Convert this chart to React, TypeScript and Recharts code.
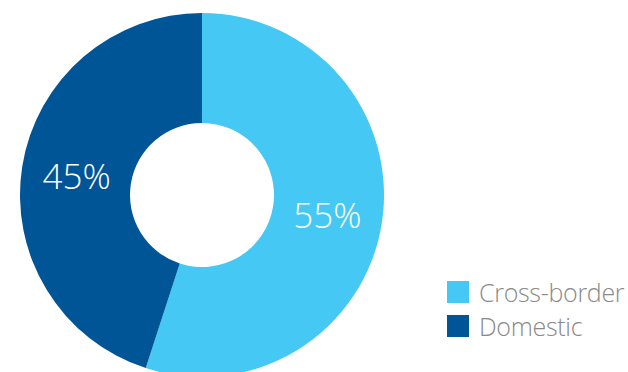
import { PieChart, Pie, Cell, Legend } from 'recharts'

const categories = ['Cross-border', 'Domestic']
const shares = [55, 45]
const COLORS = ['#45c8f4', '#005596']

const data = categories.map((name, i) => ({ name, value: shares[i] }))

const RADIAN = Math.PI / 180

const renderLabel = (props: any) => {
  const { cx, cy, midAngle, innerRadius, outerRadius, value } = props
  const r = (innerRadius + outerRadius) / 2
  const x = cx + r * Math.cos(-midAngle * RADIAN)
  const y = cy + r * Math.sin(-midAngle * RADIAN)
  return (
    <text
      x={x}
      y={y}
      fill="#ffffff"
      textAnchor="middle"
      dominantBaseline="central"
      style={{ fontFamily: '"Open Sans", sans-serif', fontWeight: 300, fontSize: 35 }}
    >
      {`${value}%`}
    </text>
  )
}

const renderLegend = () => (
  <div style={{ fontFamily: '"Open Sans", sans-serif', fontWeight: 300 }}>
    {categories.map((name, i) => (
      <div key={name} style={{ display: 'flex', alignItems: 'center', height: 34 }}>
        <span style={{ width: 22, height: 22, background: COLORS[i], marginRight: 10, display: 'inline-block' }} />
        <span style={{ fontSize: 25, color: '#8a8a8a', letterSpacing: -0.3 }}>{name}</span>
      </div>
    ))}
  </div>
)

export default function App() {
  return (
    <div style={{ position: 'absolute', left: 0, top: 0, width: 628, height: 372, background: '#fff' }}>
      <PieChart width={628} height={372} margin={{ top: 0, right: 0, bottom: 0, left: 0 }}>
        <Pie
          data={data}
          dataKey="value"
          nameKey="name"
          cx={202}
          cy={195}
          innerRadius={72}
          outerRadius={182}
          startAngle={90}
          endAngle={-270}
          stroke="none"
          label={renderLabel}
          labelLine={false}
          isAnimationActive={false}
        >
          {data.map((_, i) => (
            <Cell key={i} fill={COLORS[i]} stroke="none" />
          ))}
        </Pie>
        <Legend
          content={renderLegend}
          layout="vertical"
          wrapperStyle={{ position: 'absolute', left: 447, top: 275, width: 181 }}
        />
      </PieChart>
    </div>
  )
}
